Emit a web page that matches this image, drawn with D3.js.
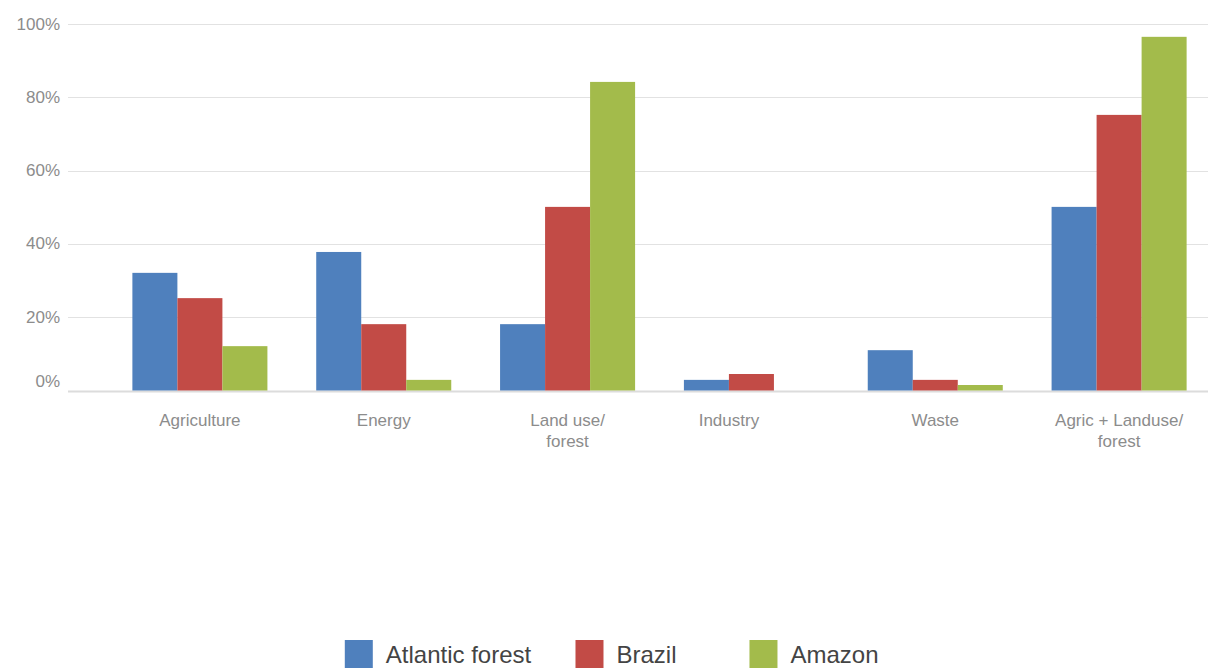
<!DOCTYPE html>
<html lang="en">
<head>
<meta charset="UTF-8">
<title>Emissions by sector</title>
<script src="https://cdn.jsdelivr.net/npm/d3@7"></script>
<style>
  * { margin: 0; padding: 0; }
  body { background: #fff; font-family: "Liberation Sans", Arial, sans-serif; }
</style>
</head>
<body>
<svg id="chart" width="1208" height="671"></svg>
<script>
// data (percent)
const categories = ["Agriculture", "Energy", "Land use/\nforest", "Industry", "Waste", "Agric + Landuse/\nforest"];
const series = ["Atlantic forest", "Brazil", "Amazon"];
const atlantic = [32.1, 37.8, 18.1, 2.9, 11.0, 50.1];
const brazil = [25.2, 18.1, 50.1, 4.5, 2.9, 75.2];
const amazon = [12.1, 2.9, 84.2, null, 1.5, 96.5];
const yTicks = [0, 20, 40, 60, 80, 100];
const colors = ["#4f80bd", "#c24b46", "#a3bb4b"];

const values = [atlantic, brazil, amazon];
const svg = d3.select('#chart');

const y = d3.scaleLinear().domain([0, 100]).range([390.5, 24]);
const x0 = d3.scaleBand().domain(categories).range([114, 1205]).paddingInner(0.2655).paddingOuter(0.1);
const x1 = d3.scaleBand().domain(series).range([0, x0.bandwidth()]);
const color = d3.scaleOrdinal().domain(series).range(colors);

// grid lines + y labels
const grid = svg.append('g');
grid.selectAll('line').data(yTicks).join('line')
  .attr('x1', 68).attr('x2', 1208)
  .attr('y1', d => Math.round(y(d)) + 0.5).attr('y2', d => Math.round(y(d)) + 0.5)
  .attr('stroke', d => d === 0 ? '#dcdcdc' : '#e2e2e2')
  .attr('stroke-width', d => d === 0 ? 2 : 1);
grid.selectAll('text').data(yTicks).join('text')
  .attr('x', 60)
  .attr('y', d => d === 0 ? y(d) - 9 : y(d))
  .attr('text-anchor', 'end')
  .attr('dominant-baseline', 'central')
  .attr('font-size', '17px')
  .attr('fill', '#8c8c8c')
  .text(d => d + '%');

// bars
const groups = svg.append('g').selectAll('g').data(categories).join('g')
  .attr('transform', d => `translate(${x0(d)},0)`);
groups.selectAll('rect')
  .data((c, i) => series.map((s, j) => ({ s, v: values[j][i] })).filter(d => d.v != null))
  .join('rect')
  .attr('x', d => x1(d.s))
  .attr('width', x1.bandwidth())
  .attr('y', d => y(d.v))
  .attr('height', d => y(0) - y(d.v))
  .attr('fill', d => color(d.s));

// category labels, centred on the bars that are drawn
const labels = svg.append('g').selectAll('text').data(categories).join('text')
  .attr('text-anchor', 'middle')
  .attr('font-size', '17px')
  .attr('fill', '#8c8c8c')
  .attr('transform', (c, i) => {
    const present = series.filter((s, j) => values[j][i] != null);
    const left = x0(c) + x1(present[0]);
    const right = x0(c) + x1(present[present.length - 1]) + x1.bandwidth();
    return `translate(${(left + right) / 2},420)`;
  });
labels.selectAll('tspan').data(c => c.split('\n')).join('tspan')
  .attr('x', 0)
  .attr('y', (d, i) => i * 21)
  .attr('dominant-baseline', 'central')
  .text(d => d);

// legend
const lx = d3.scalePoint().domain(series).range([438, 814]);
const legend = svg.append('g').selectAll('g').data(series).join('g');
legend.append('rect').attr('width', 28).attr('height', 28).attr('y', 640).attr('fill', d => color(d));
legend.append('text')
  .attr('x', 41).attr('y', 654)
  .attr('dominant-baseline', 'central')
  .attr('font-size', '24px')
  .attr('fill', '#444')
  .text(d => d);
legend.attr('transform', function (d) {
  const w = 41 + this.querySelector('text').getComputedTextLength();
  return `translate(${lx(d) - w / 2},0)`;
});
</script>
</body>
</html>
